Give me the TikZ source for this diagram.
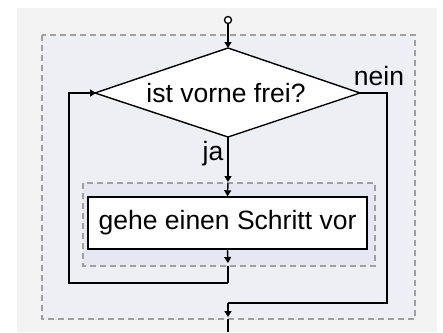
\documentclass[tikz,border=0pt]{standalone}
\usepackage{fontspec}
\setmainfont{Liberation Sans}
\usetikzlibrary{arrows.meta}
\definecolor{bggray}{RGB}{243,243,243}
\definecolor{outerfill}{RGB}{238,238,245}
\definecolor{innerfill}{RGB}{231,231,243}
\definecolor{dashgray}{RGB}{160,160,160}
\tikzset{
  dashbox/.style={draw=dashgray, line width=1.3pt, dash pattern=on 6pt off 4pt},
  flow/.style={draw=black, line width=1.4pt},
  tip/.style={-{Triangle[width=7pt,length=6pt]}},
  lbl/.style={inner sep=0pt, font=\fontsize{26.5}{30}\selectfont},
}
\begin{document}
\begin{tikzpicture}[x=1pt,y=-1pt]
\useasboundingbox (0,0) rectangle (443,332);
\fill[bggray] (17,8) rectangle (437,332);
\draw[dashbox, fill=outerfill] (42,35) rectangle (415,319);
\draw[dashbox, fill=innerfill] (83,183) rectangle (375,266);
\node[draw=black, line width=1.3pt, fill=white, circle, inner sep=0pt, minimum size=7pt] (start) at (228,20) {};
\coordinate (dtop) at (228,48);
\coordinate (dbot) at (228,137);
\coordinate (dleft) at (95,93);
\coordinate (dright) at (360,93);
\draw[draw=black, line width=1.4pt, fill=white, line join=miter] (dtop) -- (dright) -- (dbot) -- (dleft) -- cycle;
\node[lbl] (dec) at (226,93) {ist vorne frei?};
\node[rectangle, draw=black, line width=1.4pt, fill=white, minimum width=279pt, minimum height=52pt, lbl] (act) at (227.5,223) {gehe einen Schritt vor};
\coordinate (intop) at (228,183);
\coordinate (inbot) at (228,266);
\coordinate (loopb) at (228,283);
\coordinate (loopl) at (69,93);
\coordinate (exitr) at (387,93);
\coordinate (exitj) at (228,303);
\coordinate (outbot) at (228,319);
\coordinate (endp) at (228,332);
\draw[flow, tip] (start) -- (dtop);
\draw[flow, tip, shorten >=1pt] (dbot) -- (intop);
\draw[flow, tip] (intop) -- (act.north);
\draw[flow, tip, shorten >=3pt] (act.south) -- (inbot);
\draw[flow] (inbot) -- (loopb);
\draw[flow, tip, shorten >=-1pt] (loopb) -| (loopl) -- (dleft);
\draw[flow] (dright) -- (exitr) |- (exitj);
\draw[flow, tip, shorten >=2pt] (exitj) -- (outbot);
\draw[flow] (outbot) -- (endp);
\node[lbl, anchor=base] (ja) at (213,160) {ja};
\node[lbl, anchor=base] (nein) at (379,85) {nein};
\end{tikzpicture}
\end{document}
